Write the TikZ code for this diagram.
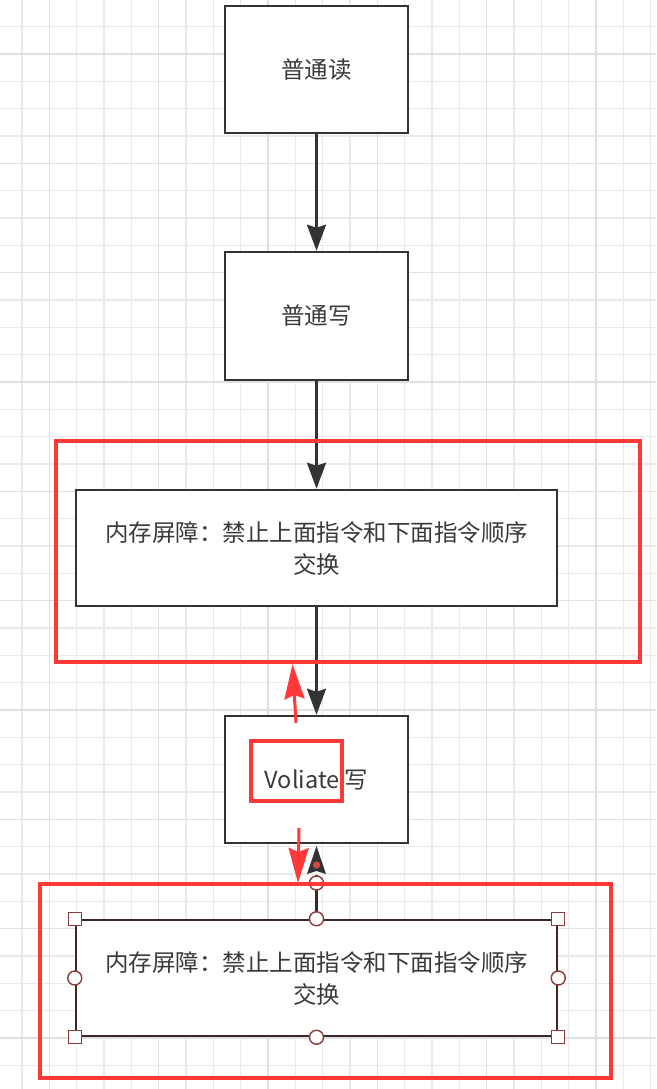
\documentclass[tikz,border=0pt]{standalone}
\usepackage{fontspec}
\newfontfamily\cjk{Noto Sans CJK SC}
\usetikzlibrary{arrows.meta}
\definecolor{boxline}{HTML}{333333}
\definecolor{txt}{HTML}{3A3A3A}
\definecolor{hired}{HTML}{FF3838}
\definecolor{gmin}{HTML}{EAEAEA}
\definecolor{gmaj}{HTML}{E0E0E0}
\definecolor{selline}{HTML}{3A2828}
\definecolor{handle}{HTML}{8E3B3B}
\definecolor{dotred}{HTML}{D04848}
\tikzset{
  flowbox/.style={draw=boxline, line width=2.5pt, fill=white, inner sep=0pt},
  selbox/.style={draw=selline, line width=2.5pt, fill=white, inner sep=0pt},
  lbl/.style={font=\cjk\fontsize{23.5}{32}\selectfont, text=txt, align=center},
  conn/.style={draw=boxline, line width=2.5pt, -{Stealth[length=26pt,width=19pt,inset=3pt]}},
  redframe/.style={draw=hired, line width=4.5pt},
  redarrow/.style={draw=hired, line width=3pt, -{Stealth[length=35pt,width=20pt,inset=4pt]}},
  sq/.style={draw=handle, line width=1.4pt, fill=white, minimum size=13pt, inner sep=0pt},
  cir/.style={draw=handle, line width=1.4pt, fill=white, circle, minimum size=14pt, inner sep=0pt},
}
\begin{document}
\begin{tikzpicture}[x=1pt,y=-1pt]
\useasboundingbox (0,0) rectangle (656,1089);
\fill[white] (0,0) rectangle (656,1089);
% grid
\foreach \i in {0,...,23} {
  \pgfmathsetmacro\xx{22+27.33*\i}
  \draw[gmin, line width=1.3pt] (\xx,0) -- (\xx,1089);
}
\foreach \i in {0,...,39} {
  \pgfmathsetmacro\yy{-0.6+27.33*\i}
  \draw[gmin, line width=1.3pt] (0,\yy) -- (656,\yy);
}
\foreach \i in {0,...,5} {
  \pgfmathsetmacro\xx{49.3+109.33*\i}
  \draw[gmaj, line width=1.5pt] (\xx,0) -- (\xx,1089);
}
\foreach \i in {0,...,9} {
  \pgfmathsetmacro\yy{54+109.33*\i}
  \draw[gmaj, line width=1.5pt] (0,\yy) -- (656,\yy);
}
% boxes
\node[flowbox, minimum width=183pt, minimum height=127pt] (b1) at (316.5,69.5) {};
\node[lbl] (t1) at (316.5,70) {普通读};
\node[flowbox, minimum width=183pt, minimum height=128pt] (b2) at (316.5,316) {};
\node[lbl] (t2) at (316.5,316) {普通写};
\node[flowbox, minimum width=481pt, minimum height=116pt] (b3) at (316.5,548) {};
\node[lbl] (t3) at (316.5,549) {内存屏障：禁止上面指令和下面指令顺序\\交换};
\node[flowbox, minimum width=183pt, minimum height=127pt] (b4) at (316.5,779.5) {};
\node[lbl] (t4) at (316.5,780) {Voliate 写};
\node[selbox, minimum width=481pt, minimum height=116pt] (b5) at (316.5,978) {};
\node[lbl] (t5) at (316.5,979) {内存屏障：禁止上面指令和下面指令顺序\\交换};
% connectors
\draw[conn] (b1.south) -- (b2.north);
\draw[conn] (b2.south) -- (b3.north);
\draw[conn] (b3.south) -- (b4.north);
\coordinate (e5) at (316.5,875);
\draw[draw=selline, line width=2.5pt] (b5.north) -- (e5);
\coordinate (tipb) at (316.5,846);
\fill[boxline] (tipb) -- (326,874) -- (316.5,871) -- (307,874) -- cycle;
\fill[dotred] (316.5,865) circle (3.6pt);
\node[cir] (h0) at (316.5,883) {};
% handles
\node[sq] (s1) at (b5.north west) {};
\node[sq] (s2) at (b5.north east) {};
\node[sq] (s3) at (b5.south west) {};
\node[sq] (s4) at (b5.south east) {};
\node[cir] (c1) at (b5.north) {};
\node[cir] (c2) at (b5.south) {};
\node[cir] (c3) at (b5.west) {};
\node[cir] (c4) at (b5.east) {};
% red frames
\node[redframe, minimum width=584pt, minimum height=221pt, inner sep=0pt] (r1) at (348,551.5) {};
\node[redframe, minimum width=571pt, minimum height=194pt, inner sep=0pt] (r2) at (325.5,981) {};
\node[draw=hired, line width=3.5pt, minimum width=91pt, minimum height=60pt, inner sep=0pt] (r3) at (296.5,771) {};
% red arrows
\coordinate (ua1) at (296,723);
\coordinate (ua2) at (292.5,664);
\draw[redarrow] (ua1) -- (ua2);
\coordinate (da1) at (299,828);
\coordinate (da2) at (298,883);
\draw[redarrow] (da1) -- (da2);
\end{tikzpicture}
\end{document}
